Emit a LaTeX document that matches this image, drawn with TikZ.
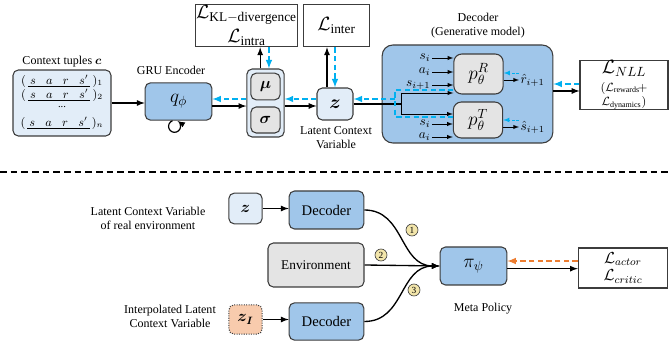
\documentclass[tikz,border=0pt]{standalone}
\usepackage{amsmath,bm}
\usepackage{fontspec}
\setmainfont{Liberation Serif}
\usetikzlibrary{calc}

\definecolor{midblue}{RGB}{160,198,234}
\definecolor{paleblue}{RGB}{226,237,248}
\definecolor{boxgray}{RGB}{228,228,228}
\definecolor{dashblue}{RGB}{0,176,240}
\definecolor{dashorange}{RGB}{237,125,49}
\definecolor{peach}{RGB}{248,203,173}
\definecolor{numtan}{RGB}{242,229,170}
\definecolor{edge}{RGB}{60,60,60}

\tikzset{
  block/.style={rectangle, rounded corners=4pt, draw=edge, line width=0.8pt, inner sep=0pt},
  bluebox/.style={block, fill=midblue},
  palebox/.style={block, fill=paleblue},
  graybox/.style={block, fill=boxgray},
  lossbox/.style={rectangle, draw=edge, line width=0.8pt, fill=white, align=center, inner sep=0pt},
  lbl/.style={font=\fontsize{9}{10.5}\selectfont, align=center},
  tuple/.style={inner sep=0pt, font=\fontsize{9}{9}\selectfont},
  arr/.style={-latex, line width=1pt},
  thinarr/.style={-latex, line width=0.5pt},
  bdash/.style={dashblue, line width=1.2pt, dash pattern=on 4pt off 2.5pt},
  sdash/.style={dashblue, -latex, line width=0.6pt, dash pattern=on 2pt off 1.2pt},
  odash/.style={dashorange, -latex, line width=1.2pt, dash pattern=on 4pt off 2.5pt},
  numcirc/.style={circle, draw=edge, fill=numtan, line width=0.5pt, inner sep=0pt,
    minimum size=9pt, font=\fontsize{7}{7}\selectfont}
}

\begin{document}
\begin{tikzpicture}[x=0.75pt, y=-0.75pt]
\useasboundingbox (0,0) rectangle (670,348);

\node[lbl] (ctxlbl) at (62,62) {Context tuples $\bm{c}$};
\node[palebox, minimum width=73.5pt, minimum height=49.5pt] (ctx) at (62,103) {};
\node[tuple] (row1) at (62,81) {$(\,\underline{\,s\;\;\;a\;\;\;r\;\;\;s'\,}\,)_{1}$};
\node[tuple] (row2) at (62,95) {$(\,\underline{\,s\;\;\;a\;\;\;r\;\;\;s'\,}\,)_{2}$};
\node[tuple] (rowdots) at (62,107) {\fontsize{8}{8}\selectfont ...};
\node[tuple] (rown) at (62,123) {$(\,\underline{\,s\;\;\;a\;\;\;r\;\;\;s'\,}\,)_{n}$};

\node[lbl] (grulbl) at (171,70) {GRU Encoder};
\node[bluebox, minimum width=50pt, minimum height=28pt] (gru) at (178.5,101.5) {\Large $q_{\phi}$};
\draw[-latex, line width=0.9pt] ([xshift=-4.5pt]gru.south) arc[start angle=110, end angle=420, radius=4.5pt];

\node[palebox, minimum width=28pt, minimum height=51pt] (musig) at (265.5,103) {};
\node[graybox, minimum width=22pt, minimum height=20pt] (mu) at (265.5,86.5) {\large $\bm{\mu}$};
\node[graybox, minimum width=22pt, minimum height=19.5pt] (sigma) at (265.5,120) {\large $\bm{\sigma}$};

\node[lossbox, minimum width=77pt, minimum height=32pt, font=\Large] (kl) at (246.5,25.5)
  {$\mathcal{L}_{\mathrm{KL-divergence}}$\\[0pt]$\mathcal{L}_{\mathrm{intra}}$};
\node[lossbox, minimum width=49pt, minimum height=32pt, font=\Large] (inter) at (336.5,25.5) {$\mathcal{L}_{\mathrm{inter}}$};

\node[palebox, minimum width=27pt, minimum height=24pt] (z) at (335,104) {\Large $\bm{z}$};
\node[lbl] (zlbl) at (336,138) {Latent Context\\Variable};

\node[lbl] (declbl) at (478,26) {Decoder\\(Generative model)};
\node[bluebox, rounded corners=8pt, minimum width=128pt, minimum height=73.5pt] (dec) at (467.5,94) {};
\node[graybox, rounded corners=6pt, minimum width=37pt, minimum height=30pt] (pR) at (478.5,74) {\Large $p^{R}_{\theta}$};
\node[graybox, rounded corners=6pt, minimum width=37pt, minimum height=27pt] (pT) at (478,120) {\Large $p^{T}_{\theta}$};

\node[lossbox, minimum width=66pt, minimum height=36pt] (nll) at (624,85)
  {{\Large $\mathcal{L}_{NLL}$}\\[1pt]{\small $(\mathcal{L}_{\mathrm{rewards}}\!+$}\\[-1pt]{\small $\mathcal{L}_{\mathrm{dynamics}})$}};

% encoder side
\draw[arr] (ctx.east) -- (ctx.east -| gru.west);
\draw[arr] ([yshift=-3.4pt]gru.east) -- ([yshift=-3.4pt]gru.east -| musig.west);
\draw[bdash, -latex] ([yshift=3pt]musig.west) -- ([yshift=3pt]musig.west -| gru.east);
\draw[arr] ([yshift=-2.25pt]musig.east) -- ([yshift=-2.25pt]musig.east -| z.west);
\draw[bdash, -latex] ([yshift=3.75pt]z.west) -- ([yshift=3.75pt]z.west -| musig.east);
\draw[arr] ([xshift=-4pt]musig.north) -- ([xshift=-4pt]musig.north |- kl.south);
\draw[bdash, -latex] ([xshift=2.6pt]musig.north |- kl.south) -- ([xshift=2.6pt]musig.north);
\draw[arr] ([xshift=-6pt]z.north) -- ([xshift=-6pt]z.north |- inter.south);
\draw[bdash, -latex] (z.north |- inter.south) -- (z.north);

% decoder inside
\coordinate (br) at (401,104);
\coordinate (brtop) at (401,93);
\coordinate (brbot) at (401,114);
\draw[line width=1pt] (z.east) -- (br);
\draw[thinarr] (brtop) -- (brbot) -- (brbot -| pT.west);
\draw[thinarr] (brtop) -- (brtop -| pR.west);
\coordinate (bt) at (395,90);
\coordinate (bb) at (395,117);
\coordinate (bm) at (395,99);
\draw[bdash] (bt -| pR.west) -- (bt) -- (bb) -- (bb -| pT.west);
\draw[bdash, -latex] (bm) -- (bm -| z.east);

\node[anchor=east, inner sep=1pt] (si) at (432,58) {$s_{i}$};
\node[anchor=east, inner sep=1pt] (ai) at (432,72) {$a_{i}$};
\node[anchor=east, inner sep=1pt] (sn) at (432,85) {$s_{i+1}$};
\node[anchor=east, inner sep=1pt] (si2) at (432,124) {$s_{i}$};
\node[anchor=east, inner sep=1pt] (ai2) at (432,137) {$a_{i}$};
\foreach \n in {si,ai,sn}
  \draw[thinarr] (\n.east) -- (\n.east -| pR.west);
\foreach \n in {si2,ai2}
  \draw[thinarr] (\n.east) -- (\n.east -| pT.west);

\node[anchor=west, inner sep=1pt] (rhat) at (519,80) {$\hat{r}_{i+1}$};
\node[anchor=west, inner sep=1pt] (shat) at (519,127) {$\hat{s}_{i+1}$};
\draw[thinarr] (rhat.west -| pR.east) -- (rhat.west);
\draw[thinarr] (shat.west -| pT.east) -- (shat.west);
\draw[sdash] ([yshift=5.25pt]rhat.west) -- ([yshift=5.25pt]rhat.west -| pR.east);
\draw[sdash] ([yshift=5.25pt]shat.west) -- ([yshift=5.25pt]shat.west -| pT.east);

\draw[arr] ([yshift=-4.5pt]nll.west -| dec.east) -- ([yshift=-4.5pt]nll.west);
\draw[bdash, -latex] ([yshift=0.75pt]nll.west) -- ([yshift=0.75pt]nll.west -| dec.east);

\draw[line width=1.2pt, dash pattern=on 5pt off 3pt] (0,172) -- (670,172);

% meta policy part
\node[lbl] (zrlbl) at (148,218) {Latent Context Variable\\of real environment};
\node[palebox, minimum width=25pt, minimum height=23pt] (zr) at (245.5,208.5) {\large $\bm{z}$};
\node[bluebox, minimum width=56pt, minimum height=28.5pt, font=\fontsize{11}{12}\selectfont] (dec1) at (326.5,210) {Decoder};
\node[graybox, minimum width=72pt, minimum height=33pt, font=\fontsize{10}{12}\selectfont] (env) at (316,265) {Environment};
\node[lbl] (zilbl) at (170,316) {Interpolated Latent\\Context Variable};
\node[block, fill=peach, densely dotted, minimum width=25pt, minimum height=22pt] (zi) at (245.5,319.5) {\large $\bm{z_{I}}$};
\node[bluebox, minimum width=56pt, minimum height=28pt, font=\fontsize{11}{12}\selectfont] (dec2) at (326.5,321.5) {Decoder};

\node[bluebox, minimum width=50pt, minimum height=28.5pt] (pi) at (473.5,266) {\Large $\pi_{\psi}$};
\node[lbl] (pilbl) at (483,309) {Meta Policy};
\node[lossbox, minimum width=67pt, minimum height=30pt, font=\large] (act) at (623,268)
  {$\mathcal{L}_{actor}$\\[-1pt]$\mathcal{L}_{critic}$};

\draw[arr] (zr.east) -- (zr.east -| dec1.west);
\draw[arr] (zi.east) -- (zi.east -| dec2.west);
\draw[arr] (dec1.east) to[out=0, in=180, looseness=1.1] (pi.west);
\draw[arr] (env.east) -- (pi.west);
\draw[arr] (dec2.east) to[out=0, in=180, looseness=1.1] (pi.west);
\node[numcirc] (n1) at (412,230) {1};
\node[numcirc] (n2) at (381,255) {2};
\node[numcirc] (n3) at (414,290) {3};

\draw[arr] ([yshift=-2pt]pi.east) -- ([yshift=-2pt]pi.east -| act.west);
\draw[odash] ([yshift=5.25pt]act.west) -- ([yshift=5.25pt]act.west -| pi.east);

\end{tikzpicture}
\end{document}
